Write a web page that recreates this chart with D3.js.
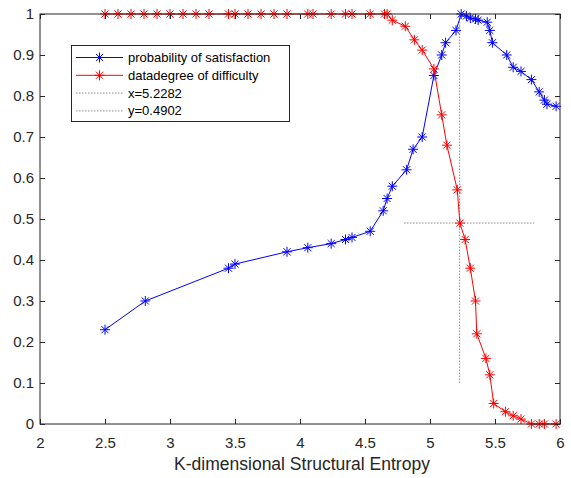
<!DOCTYPE html>
<html>
<head>
<meta charset="utf-8">
<script src="https://cdn.jsdelivr.net/npm/d3@7"></script>
<style>
  html, body { margin: 0; padding: 0; background: #fff; }
  svg { display: block; font-family: "Liberation Sans", Arial, sans-serif; }
</style>
</head>
<body>
<svg id="chart" width="571" height="478"></svg>
<script>
// Probability of satisfaction vs. K-dimensional structural entropy
const satX = [2.5, 2.81, 3.45, 3.5, 3.9, 4.06, 4.24, 4.35, 4.4, 4.54, 4.64, 4.67, 4.71, 4.82, 4.87, 4.94,
              5.03, 5.09, 5.12, 5.2, 5.24, 5.28, 5.31, 5.35, 5.37, 5.44, 5.46, 5.48, 5.59, 5.64, 5.7, 5.78,
              5.84, 5.88, 5.9, 5.97];
const satY = [0.23, 0.30, 0.38, 0.39, 0.42, 0.43, 0.44, 0.45, 0.455, 0.47, 0.52, 0.55, 0.58, 0.62, 0.67, 0.70,
              0.85, 0.90, 0.93, 0.96, 1.0, 0.995, 0.99, 0.988, 0.985, 0.98, 0.96, 0.93, 0.90, 0.87, 0.86, 0.84,
              0.81, 0.79, 0.78, 0.775];

// Data degree of difficulty
const diffX = [2.5, 2.6, 2.7, 2.8, 2.9, 3.0, 3.1, 3.2, 3.3, 3.45, 3.5, 3.6, 3.7, 3.8, 3.9, 4.06, 4.1, 4.24,
               4.35, 4.4, 4.54, 4.65, 4.67, 4.71, 4.81, 4.88, 4.94, 5.03, 5.09, 5.13, 5.21, 5.23, 5.27, 5.31,
               5.35, 5.36, 5.43, 5.46, 5.49, 5.58, 5.64, 5.7, 5.78, 5.84, 5.88, 5.97];
const diffY = [1, 1, 1, 1, 1, 1, 1, 1, 1, 1, 1, 1, 1, 1, 1, 1, 1, 1, 1, 1, 1, 1, 1,
               0.985, 0.97, 0.937, 0.912, 0.866, 0.754, 0.68, 0.571, 0.49, 0.45, 0.38, 0.30, 0.22, 0.16, 0.12,
               0.05, 0.03, 0.02, 0.012, 0, 0, 0, 0];

// Reference cross-hair at the intersection
const crossX = 5.2282;
const crossY = 0.4902;
const vLineY = [0.1, 1];
const hLineX = [4.8, 5.8];

const xTicks = [2, 2.5, 3, 3.5, 4, 4.5, 5, 5.5, 6];
const yTicks = [0, 0.1, 0.2, 0.3, 0.4, 0.5, 0.6, 0.7, 0.8, 0.9, 1];
const legendLabels = ["probability of satisfaction", "datadegree of difficulty", "x=5.2282", "y=0.4902"];
const xLabel = "K-dimensional Structural Entropy";

const svg = d3.select("#chart");
const L = 40, R = 560, T = 14, B = 424;
const x = d3.scaleLinear().domain([2, 6]).range([L, R]);
const y = d3.scaleLinear().domain([0, 1]).range([B, T]);

const axisColor = "#262626";

// Reference lines
const refStyle = g => g.attr("stroke", "#8c8c8c").attr("stroke-width", 1)
  .attr("stroke-dasharray", "1.5,1.5").attr("fill", "none");
svg.append("line").call(refStyle)
  .attr("x1", x(crossX)).attr("x2", x(crossX)).attr("y1", y(vLineY[0])).attr("y2", y(vLineY[1]));
svg.append("line").call(refStyle)
  .attr("x1", x(hLineX[0])).attr("x2", x(hLineX[1])).attr("y1", y(crossY)).attr("y2", y(crossY));

// Asterisk marker path
function star(r) {
  const d = r * Math.SQRT1_2;
  return `M${-r},0L${r},0M0,${-r}L0,${r}M${-d},${-d}L${d},${d}M${-d},${d}L${d},${-d}`;
}

function series(xs, ys, color) {
  const pts = xs.map((v, i) => [v, ys[i]]);
  const line = d3.line().x(d => x(d[0])).y(d => y(d[1]));
  svg.append("path").datum(pts).attr("d", line)
    .attr("fill", "none").attr("stroke", color).attr("stroke-width", 1);
  svg.append("g").selectAll("path").data(pts).join("path")
    .attr("transform", d => `translate(${x(d[0])},${y(d[1])})`)
    .attr("d", star(5)).attr("stroke", color).attr("stroke-width", 1).attr("fill", "none");
}
series(satX, satY, "#0000ff");
series(diffX, diffY, "#ff0000");

// Axes box with inward ticks
function styleAxis(g) {
  g.select(".domain").remove();
  g.selectAll("line").attr("stroke", axisColor);
  g.selectAll("text").attr("fill", axisColor).attr("font-size", 15)
    .attr("font-family", '"Liberation Sans", Arial, sans-serif');
}
const fmt = d => String(d);
svg.append("g").attr("transform", `translate(0,${B})`)
  .call(d3.axisBottom(x).tickValues(xTicks).tickFormat(fmt).tickSizeInner(-5).tickSizeOuter(0).tickPadding(13))
  .call(styleAxis);
svg.append("g").attr("transform", `translate(0,${T})`)
  .call(d3.axisTop(x).tickValues(xTicks).tickFormat("").tickSizeInner(-5).tickSizeOuter(0))
  .call(styleAxis);
svg.append("g").attr("transform", `translate(${L},0)`)
  .call(d3.axisLeft(y).tickValues(yTicks).tickFormat(fmt).tickSizeInner(-5).tickSizeOuter(0).tickPadding(6))
  .call(styleAxis);
svg.append("g").attr("transform", `translate(${R},0)`)
  .call(d3.axisRight(y).tickValues(yTicks).tickFormat("").tickSizeInner(-5).tickSizeOuter(0))
  .call(styleAxis);
svg.append("rect").attr("x", L).attr("y", T).attr("width", R - L).attr("height", B - T)
  .attr("fill", "none").attr("stroke", axisColor).attr("stroke-width", 1);

// Axis title
svg.append("text").attr("x", 302).attr("y", 470).attr("text-anchor", "middle")
  .attr("font-size", 17.5).attr("fill", axisColor).text(xLabel);

// Legend
const leg = svg.append("g");
leg.append("rect").attr("x", 71.5).attr("y", 45.5).attr("width", 218).attr("height", 76)
  .attr("fill", "#fff").attr("stroke", axisColor).attr("stroke-width", 1);
const legendItems = [
  { color: "#0000ff", marker: true, dash: null },
  { color: "#ff0000", marker: true, dash: null },
  { color: "#8c8c8c", marker: false, dash: "1.5,1.5" },
  { color: "#8c8c8c", marker: false, dash: "1.5,1.5" }
];
legendItems.forEach((it, i) => {
  const yy = 57.5 + i * 17.8;
  leg.append("line").attr("x1", 76).attr("x2", 123).attr("y1", yy).attr("y2", yy)
    .attr("stroke", it.color).attr("stroke-width", 1).attr("stroke-dasharray", it.dash);
  if (it.marker) {
    leg.append("path").attr("transform", `translate(99.5,${yy})`).attr("d", star(5))
      .attr("stroke", it.color).attr("stroke-width", 1).attr("fill", "none");
  }
  leg.append("text").attr("x", 128).attr("y", yy).attr("dy", "0.35em")
    .attr("font-size", 13).attr("fill", "#000").text(legendLabels[i]);
});
</script>
</body>
</html>
